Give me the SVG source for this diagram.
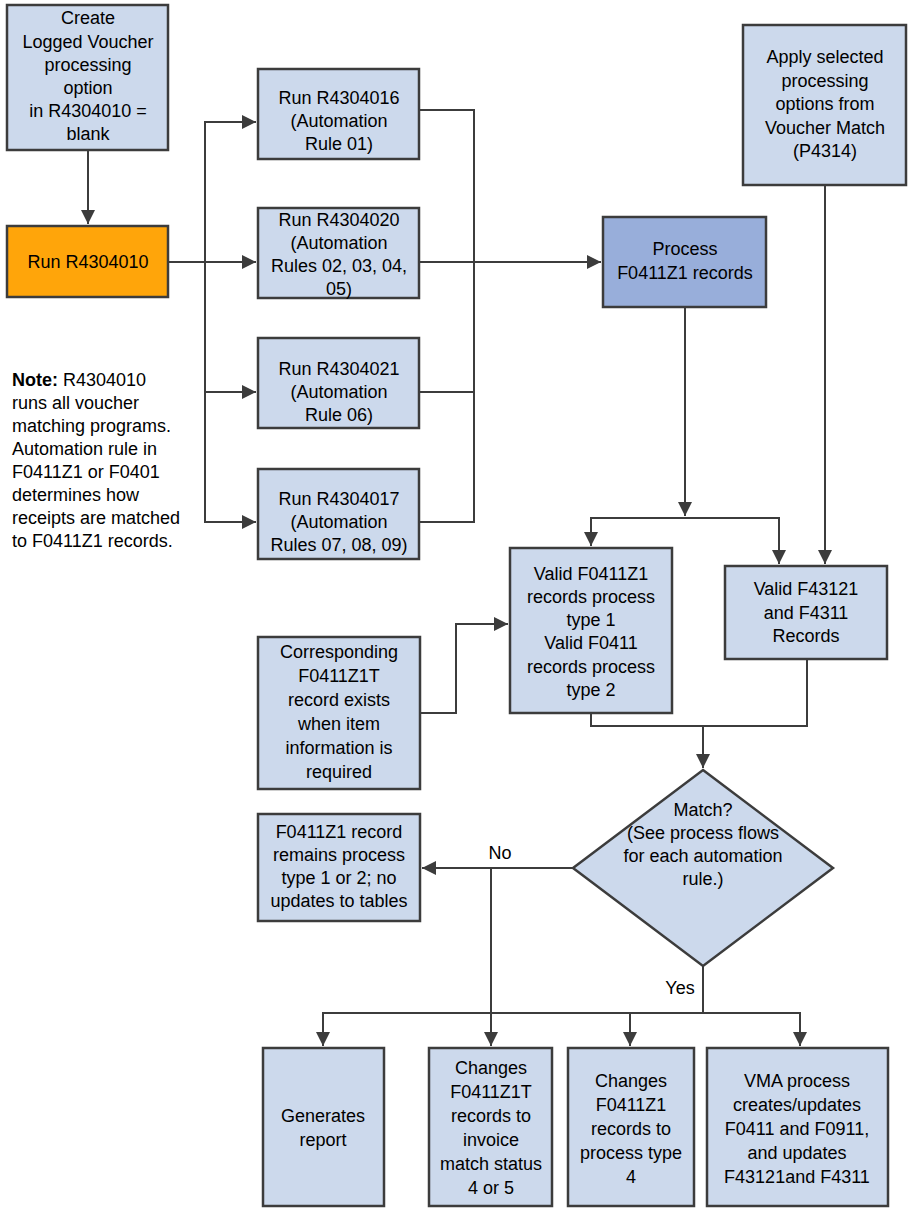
<svg xmlns="http://www.w3.org/2000/svg" width="908" height="1213" viewBox="0 0 908 1213">
<style>
rect.n,polygon.n{fill:#CCD9EC;stroke:#3C3C3C;stroke-width:2.5}
text{font-family:"Liberation Sans",Arial,sans-serif;font-size:18px;fill:#000;text-anchor:middle}
.c path{fill:none;stroke:#3C3C3C;stroke-width:2}
</style>
<defs>
<marker id="a" viewBox="0 0 10 10" refX="10" refY="5" markerWidth="6" markerHeight="6" orient="auto" markerUnits="userSpaceOnUse" style="overflow:visible"><path d="M0,0L10,5L0,10z" fill="#3C3C3C"/></marker>
<marker id="b" viewBox="0 0 10 10" refX="10" refY="5" markerWidth="7" markerHeight="7" orient="auto"><path d="M0,0L10,5L0,10z" fill="#3C3C3C"/></marker>
</defs>
<g class="c">
<path d="M88,150V224" marker-end="url(#b)"/>
<path d="M168,262H256" marker-end="url(#b)"/>
<path d="M256,122H205V522H256" />
<path d="M205,122H256" marker-end="url(#b)"/>
<path d="M205,392H256" marker-end="url(#b)"/>
<path d="M205,522H256" marker-end="url(#b)"/>
<path d="M419,110H474V522H419M419,392H474"/>
<path d="M419,262H601" marker-end="url(#b)"/>
<path d="M825,185V564" marker-end="url(#b)"/>
<path d="M685,307V516" marker-end="url(#b)"/>
<path d="M591,546V518H779V564" marker-end="url(#b)"/>
<path d="M685,518H591V546" marker-end="url(#b)"/>
<path d="M420,713H456V624H508" stroke="#000" marker-end="url(#b)"/>
<path d="M591,713V726H807V659M703,726V768" marker-end="url(#b)"/>
<path d="M573,868H422" marker-end="url(#b)"/>
<path d="M491,868V1046" marker-end="url(#b)"/>
<path d="M703,966V1013H323V1046" marker-end="url(#b)"/>
<path d="M630,1013V1046" marker-end="url(#b)"/>
<path d="M703,1013H800V1046" marker-end="url(#b)"/>
</g>
<g id="n1"><rect class="n" x="7" y="5" width="161" height="145"/><text x="88" y="24">Create</text><text x="88" y="48">Logged Voucher</text><text x="88" y="71">processing</text><text x="88" y="94">option</text><text x="88" y="117">in R4304010 =</text><text x="88" y="140">blank</text></g>
<g id="n2"><rect x="7" y="226" width="161" height="71" fill="#FFA50A" stroke="#3C3C3C" stroke-width="2.5"/><text x="88" y="268">Run R4304010</text></g>
<g id="note"><text x="12" y="386" style="text-anchor:start"><tspan font-weight="bold">Note:</tspan> R4304010</text><text x="12" y="409" style="text-anchor:start">runs all voucher</text><text x="12" y="432" style="text-anchor:start">matching programs.</text><text x="12" y="455" style="text-anchor:start">Automation rule in</text><text x="12" y="478" style="text-anchor:start">F0411Z1 or F0401</text><text x="12" y="501" style="text-anchor:start">determines how</text><text x="12" y="524" style="text-anchor:start">receipts are matched</text><text x="12" y="547" style="text-anchor:start">to F0411Z1 records.</text></g>
<g id="n3"><rect class="n" x="258" y="69" width="161" height="90"/><text x="339" y="104">Run R4304016</text><text x="339" y="127">(Automation</text><text x="339" y="150">Rule 01)</text></g>
<g id="n4"><rect class="n" x="258" y="208" width="161" height="90"/><text x="339" y="226">Run R4304020</text><text x="339" y="249">(Automation</text><text x="339" y="272">Rules 02, 03, 04,</text><text x="339" y="295">05)</text></g>
<g id="n5"><rect class="n" x="258" y="338" width="161" height="90"/><text x="339" y="375">Run R4304021</text><text x="339" y="398">(Automation</text><text x="339" y="421">Rule 06)</text></g>
<g id="n6"><rect class="n" x="258" y="469" width="161" height="90"/><text x="339" y="505">Run R4304017</text><text x="339" y="528">(Automation</text><text x="339" y="551">Rules 07, 08, 09)</text></g>
<g id="n7"><rect x="603" y="217" width="163" height="90" fill="#98AEDA" stroke="#3C3C3C" stroke-width="2.5"/><text x="685" y="255">Process</text><text x="685" y="279">F0411Z1 records</text></g>
<g id="n8"><rect class="n" x="743" y="25" width="163" height="160"/><text x="825" y="63">Apply selected</text><text x="825" y="87">processing</text><text x="825" y="110">options from</text><text x="825" y="134">Voucher Match</text><text x="825" y="157">(P4314)</text></g>
<g id="n9"><rect class="n" x="510" y="548" width="162" height="165"/><text x="591" y="580">Valid F0411Z1</text><text x="591" y="603">records process</text><text x="591" y="626">type 1</text><text x="591" y="649">Valid F0411</text><text x="591" y="673">records process</text><text x="591" y="696">type 2</text></g>
<g id="n10"><rect class="n" x="725" y="566" width="162" height="93"/><text x="806" y="595">Valid F43121</text><text x="806" y="619">and F4311</text><text x="806" y="642">Records</text></g>
<g id="n11"><rect class="n" x="258" y="637" width="162" height="152"/><text x="339" y="658">Corresponding</text><text x="339" y="682">F0411Z1T</text><text x="339" y="706">record exists</text><text x="339" y="730">when item</text><text x="339" y="754">information is</text><text x="339" y="778">required</text></g>
<g id="n12"><polygon class="n" points="703,770 833,868 703,966 573,868"/><text x="703" y="816">Match?</text><text x="703" y="839">(See process flows</text><text x="703" y="862">for each automation</text><text x="703" y="885">rule.)</text></g>
<text x="500" y="859">No</text><text x="680" y="994">Yes</text>
<g id="n13"><rect class="n" x="258" y="814" width="162" height="107"/><text x="339" y="838">F0411Z1 record</text><text x="339" y="861">remains process</text><text x="339" y="884">type 1 or 2; no</text><text x="339" y="907">updates to tables</text></g>
<g id="n14"><rect class="n" x="263" y="1048" width="121" height="158"/><text x="323" y="1122">Generates</text><text x="323" y="1146">report</text></g>
<g id="n15"><rect class="n" x="429" y="1048" width="123" height="158"/><text x="491" y="1074">Changes</text><text x="491" y="1098">F0411Z1T</text><text x="491" y="1122">records to</text><text x="491" y="1146">invoice</text><text x="491" y="1170">match status</text><text x="491" y="1194">4 or 5</text></g>
<g id="n16"><rect class="n" x="568" y="1048" width="126" height="158"/><text x="631" y="1087">Changes</text><text x="631" y="1111">F0411Z1</text><text x="631" y="1135">records to</text><text x="631" y="1159">process type</text><text x="631" y="1183">4</text></g>
<g id="n17"><rect class="n" x="707" y="1048" width="181" height="158"/><text x="797" y="1087">VMA process</text><text x="797" y="1111">creates/updates</text><text x="797" y="1135">F0411 and F0911,</text><text x="797" y="1159">and updates</text><text x="797" y="1183">F43121and F4311</text></g>
</svg>
